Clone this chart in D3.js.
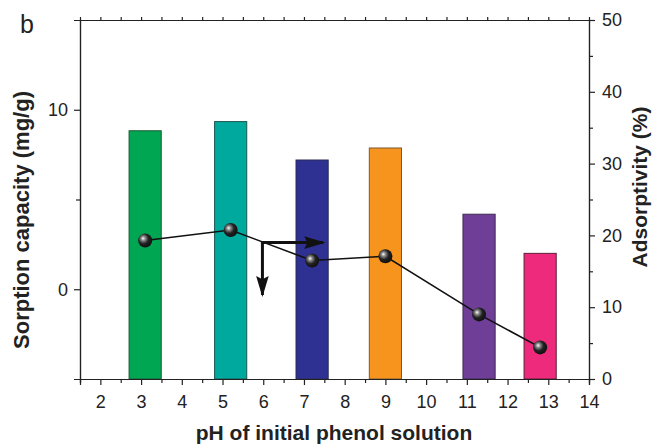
<!DOCTYPE html>
<html>
<head>
<meta charset="utf-8">
<script src="https://cdn.jsdelivr.net/npm/d3@7"></script>
<style>
  body { margin: 0; background: #fff; }
  svg { font-family: "Liberation Sans", Arial, sans-serif; }
</style>
</head>
<body>
<svg id="chart" width="654" height="444"></svg>
<script>
// pH values (bars & points are centred at the measured pH)
var phValues = [3.1, 5.2, 7.2, 9.0, 11.3, 12.8];
// sorption capacity, left axis (mg/g)
var capacity = [8.83, 9.34, 7.2, 7.87, 4.18, 2.0];
// adsorptivity, right axis (%)
var adsorptivity = [19.3, 20.75, 16.5, 17.1, 9.0, 4.4];
var barColors = ["#00a651", "#00a99d", "#2e3192", "#f7941d", "#6f3f98", "#ed2a7b"];
var barStrokes = ["#1f5a35", "#1d5450", "#2a2a55", "#7a5a36", "#3d2a50", "#5a2036"];
var xTicks = [2, 3, 4, 5, 6, 7, 8, 9, 10, 11, 12, 13, 14];
// annotation arrows: corner and ends (x in pH, y in %)
var arrowCorner = {x: 5.98, y: 19.0};
var arrowRightEnd = 7.47;
var arrowDownEnd = 11.7;

var margin = {top: 20, right: 65, bottom: 65, left: 80},
    width = 654, height = 444;
var svg = d3.select("#chart");

var x = d3.scaleLinear().domain([1.5, 14]).range([margin.left, width - margin.right]);
var yL = d3.scaleLinear().domain([-5, 15]).range([height - margin.bottom, margin.top]);
var yR = d3.scaleLinear().domain([0, 50]).range([height - margin.bottom, margin.top]);

var defs = svg.append("defs");
var grad = defs.append("radialGradient").attr("id", "ball")
  .attr("cx", "0.4").attr("cy", "0.4").attr("r", "0.6").attr("fx", "0.35").attr("fy", "0.35");
grad.append("stop").attr("offset", "0%").attr("stop-color", "#ffffff");
grad.append("stop").attr("offset", "25%").attr("stop-color", "#8a8a8a");
grad.append("stop").attr("offset", "60%").attr("stop-color", "#222");
grad.append("stop").attr("offset", "100%").attr("stop-color", "#111");

defs.append("marker").attr("id", "head")
  .attr("viewBox", "0 0 10 10").attr("refX", 9).attr("refY", 5)
  .attr("markerWidth", 7).attr("markerHeight", 7).attr("orient", "auto")
  .attr("markerUnits", "strokeWidth")
  .append("path").attr("d", "M0,2 L10,5 L0,8 L1.5,5 Z").attr("fill", "#111");

// bars
var barW = x(1.79) - x(1);
svg.append("g").selectAll("rect").data(phValues).enter().append("rect")
  .attr("x", (d) => x(d) - barW / 2)
  .attr("width", barW)
  .attr("y", (d, i) => yL(capacity[i]))
  .attr("height", (d, i) => yL(-5) - yL(capacity[i]))
  .attr("fill", (d, i) => barColors[i])
  .attr("stroke", (d, i) => barStrokes[i])
  .attr("stroke-width", 1);

// axes
var tickFmt = d3.format("d");
svg.append("g").attr("transform", "translate(0," + (height - margin.bottom) + ")")
  .call(d3.axisBottom(x).tickValues(xTicks).tickSize(6).tickPadding(10).tickFormat(tickFmt));
svg.append("g").attr("transform", "translate(0," + (height - margin.bottom) + ")")
  .call(d3.axisBottom(x).tickValues(d3.range(1.5, 14, 1)).tickSize(4).tickFormat(""));
svg.append("g").attr("transform", "translate(0," + margin.top + ")")
  .call(d3.axisTop(x).tickValues(d3.range(2, 14, 0.5)).tickSize(3).tickFormat(""));
svg.append("g").attr("transform", "translate(" + margin.left + ",0)")
  .call(d3.axisLeft(yL).tickValues([0, 10]).tickSize(6).tickPadding(6).tickFormat(tickFmt));
svg.append("g").attr("transform", "translate(" + margin.left + ",0)")
  .call(d3.axisLeft(yL).tickValues([5]).tickSize(4).tickFormat(""));
svg.append("g").attr("transform", "translate(" + (width - margin.right) + ",0)")
  .call(d3.axisRight(yR).tickValues([0, 10, 20, 30, 40, 50]).tickSize(6).tickPadding(7).tickFormat(tickFmt));
svg.append("g").attr("transform", "translate(" + (width - margin.right) + ",0)")
  .call(d3.axisRight(yR).tickValues([5, 15, 25, 35, 45]).tickSize(4).tickFormat(""));

svg.selectAll(".domain").attr("stroke", "#222").attr("stroke-width", 1.2);
svg.selectAll(".tick line").attr("stroke", "#222").attr("stroke-width", 1.2);
svg.selectAll(".tick text").attr("font-size", "18px").attr("fill", "#222")
  .attr("font-family", "Liberation Sans, Arial, sans-serif");

// line + balls
var line = d3.line().x((d) => x(d)).y((d, i) => yR(adsorptivity[i]));
svg.append("path").datum(phValues).attr("d", line)
  .attr("fill", "none").attr("stroke", "#111").attr("stroke-width", 1.6);
svg.append("g").selectAll("circle").data(phValues).enter().append("circle")
  .attr("cx", (d) => x(d)).attr("cy", (d, i) => yR(adsorptivity[i]))
  .attr("r", 7).attr("fill", "url(#ball)");

// arrows
svg.append("line")
  .attr("x1", x(arrowCorner.x) - 1.5).attr("y1", yR(arrowCorner.y))
  .attr("x2", x(arrowRightEnd)).attr("y2", yR(arrowCorner.y))
  .attr("stroke", "#111").attr("stroke-width", 3).attr("marker-end", "url(#head)");
svg.append("line")
  .attr("x1", x(arrowCorner.x)).attr("y1", yR(arrowCorner.y))
  .attr("x2", x(arrowCorner.x)).attr("y2", yR(arrowDownEnd))
  .attr("stroke", "#111").attr("stroke-width", 3).attr("marker-end", "url(#head)");

// labels
svg.append("text").attr("x", 20).attr("y", 33).attr("font-size", "25px").attr("fill", "#222").text("b");
svg.append("text").attr("x", 334).attr("y", 440)
  .attr("text-anchor", "middle").attr("font-size", "21px").attr("font-weight", "bold").attr("fill", "#222")
  .text("pH of initial phenol solution");
svg.append("text").attr("transform", "translate(29,220) rotate(-90)")
  .attr("text-anchor", "middle").attr("font-size", "22px").attr("font-weight", "bold").attr("fill", "#222")
  .text("Sorption capacity (mg/g)");
svg.append("text").attr("transform", "translate(647,187) rotate(-90)")
  .attr("text-anchor", "middle").attr("font-size", "21px").attr("font-weight", "bold").attr("fill", "#222")
  .text("Adsorptivity (%)");
</script>
</body>
</html>
